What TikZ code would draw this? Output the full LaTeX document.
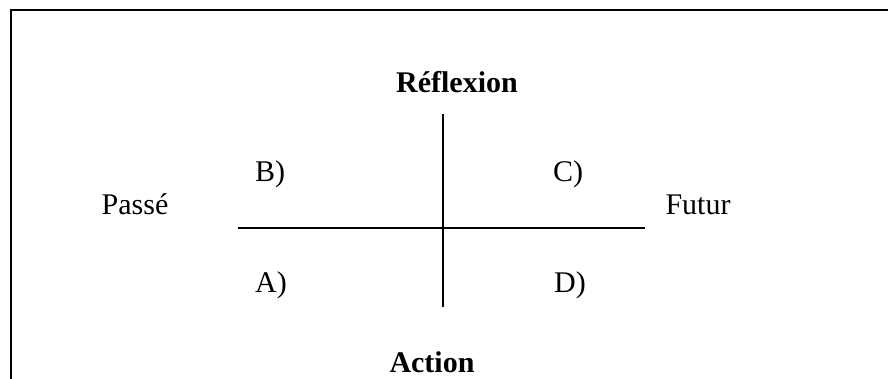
\documentclass[tikz,border=0pt]{standalone}
\usepackage{fontspec}
\setmainfont{Liberation Serif}
\usepackage{tikz}
\usetikzlibrary{positioning}

\begin{document}
\begin{tikzpicture}[x=1pt,y=1pt,
  lbl/.style={anchor=base, inner sep=0pt, font=\fontsize{30}{35}\selectfont},
  axis/.style={lbl, font=\fontsize{30}{35}\selectfont\bfseries},
  frameline/.style={line width=2.6pt, line join=miter},
  crossline/.style={line width=1.8pt}]
  \useasboundingbox (0,0) rectangle (888,379);

  % Frame
  \coordinate (fbl) at (11,0);
  \coordinate (ftl) at (11,369);
  \coordinate (ftr) at (888,369);
  \draw[frameline] (fbl) -- (ftl) -- (ftr);

  % Axes
  \node[axis] (reflexion) at (457,286) {Réflexion};
  \node[axis] (action) at (432,6) {Action};
  \node[lbl] (passe) at (135,164) {Passé};
  \node[lbl] (futur) at (698,164) {Futur};

  % Cross
  \coordinate (hl) at (238,151);
  \coordinate (hr) at (645,151);
  \coordinate (vt) at (443,265);
  \coordinate (vb) at (443,72);
  \draw[crossline] (hl) -- (hr);
  \draw[crossline] (vt) -- (vb);

  % Quadrants
  \node[lbl] (qb) at (270,197) {B)};
  \node[lbl] (qc) at (568,197) {C)};
  \node[lbl] (qa) at (271,86) {A)};
  \node[lbl] (qd) at (570,86) {D)};
\end{tikzpicture}
\end{document}
